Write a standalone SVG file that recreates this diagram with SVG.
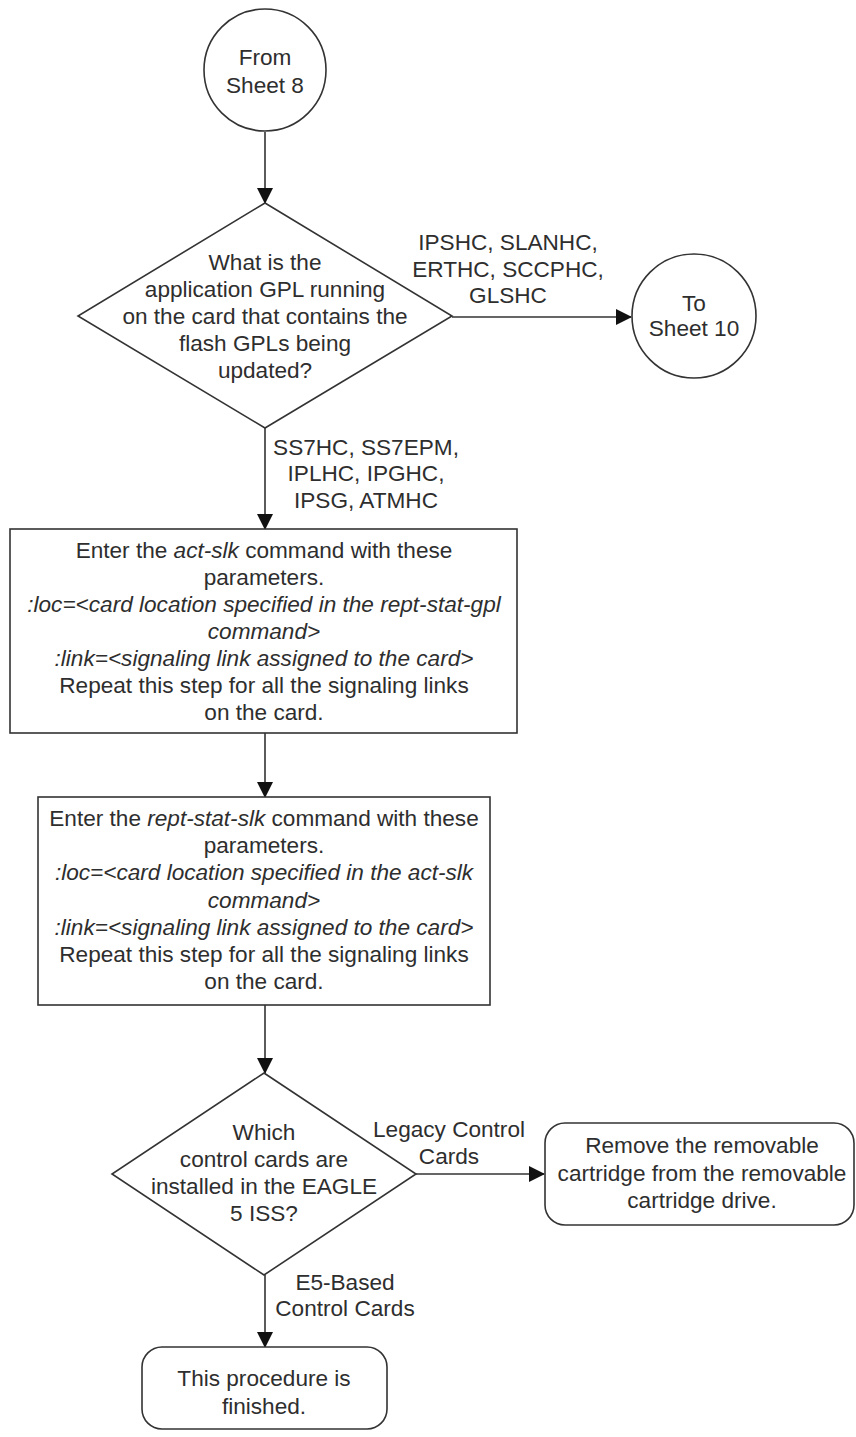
<svg xmlns="http://www.w3.org/2000/svg" width="856" height="1437" viewBox="0 0 856 1437">
  <style>
    .shape { fill: #ffffff; stroke: #333333; stroke-width: 1.6; }
    .line { fill: none; stroke: #333333; stroke-width: 1.6; }
    text { font-family: "Liberation Sans", Arial, sans-serif; font-size: 22.6px; fill: #2e2e2e; text-anchor: middle; }
    .i { font-style: italic; }
  </style>
  <defs>
    <marker id="arrow" markerWidth="16" markerHeight="16" refX="15" refY="8" orient="auto" markerUnits="userSpaceOnUse">
      <path d="M0,0 L16,8 L0,16 Z" fill="#111111"/>
    </marker>
  </defs>
  <rect width="856" height="1437" fill="#ffffff"/>

  <!-- connectors and their branch labels -->
  <g id="connectors">
    <line class="line" x1="265" y1="132" x2="265" y2="203" marker-end="url(#arrow)"/>
    <line class="line" x1="452" y1="317" x2="631" y2="317" marker-end="url(#arrow)"/>
    <line class="line" x1="265" y1="428" x2="265" y2="529" marker-end="url(#arrow)"/>
    <line class="line" x1="265" y1="733" x2="265" y2="797" marker-end="url(#arrow)"/>
    <line class="line" x1="265" y1="1005" x2="265" y2="1073" marker-end="url(#arrow)"/>
    <line class="line" x1="416" y1="1174" x2="544" y2="1174" marker-end="url(#arrow)"/>
    <line class="line" x1="265" y1="1275" x2="265" y2="1347" marker-end="url(#arrow)"/>
    <text x="508" y="250">IPSHC, SLANHC,</text>
    <text x="508" y="277">ERTHC, SCCPHC,</text>
    <text x="508" y="303">GLSHC</text>
    <text x="366" y="455">SS7HC, SS7EPM,</text>
    <text x="366" y="481">IPLHC, IPGHC,</text>
    <text x="366" y="508">IPSG, ATMHC</text>
    <text x="449" y="1137">Legacy Control</text>
    <text x="449" y="1164">Cards</text>
    <text x="345" y="1290">E5-Based</text>
    <text x="345" y="1316">Control Cards</text>
  </g>

  <g id="from-sheet-8">
    <circle class="shape" cx="265" cy="70" r="61"/>
    <text x="265" y="65">From</text>
    <text x="265" y="93">Sheet 8</text>
  </g>

  <g id="decision-gpl">
    <polygon class="shape" points="265,203 452,316 265,428 78,316"/>
    <text x="265" y="270">What is the</text>
    <text x="265" y="297">application GPL running</text>
    <text x="265" y="324">on the card that contains the</text>
    <text x="265" y="351">flash GPLs being</text>
    <text x="265" y="378">updated?</text>
  </g>

  <g id="to-sheet-10">
    <circle class="shape" cx="694" cy="316" r="62"/>
    <text x="694" y="311">To</text>
    <text x="694" y="336">Sheet 10</text>
  </g>

  <g id="act-slk">
    <rect class="shape" x="10" y="529" width="507" height="204"/>
    <text x="264" y="558">Enter the <tspan class="i">act-slk</tspan> command with these</text>
    <text x="264" y="585">parameters.</text>
    <text x="264" y="612" class="i">:loc=&lt;card location specified in the rept-stat-gpl</text>
    <text x="264" y="639" class="i">command&gt;</text>
    <text x="264" y="666" class="i">:link=&lt;signaling link assigned to the card&gt;</text>
    <text x="264" y="693">Repeat this step for all the signaling links</text>
    <text x="264" y="720">on the card.</text>
  </g>

  <g id="rept-stat-slk">
    <rect class="shape" x="38" y="797" width="452" height="208"/>
    <text x="264" y="826">Enter the <tspan class="i">rept-stat-slk</tspan> command with these</text>
    <text x="264" y="853">parameters.</text>
    <text x="264" y="880" class="i">:loc=&lt;card location specified in the act-slk</text>
    <text x="264" y="908" class="i">command&gt;</text>
    <text x="264" y="935" class="i">:link=&lt;signaling link assigned to the card&gt;</text>
    <text x="264" y="962">Repeat this step for all the signaling links</text>
    <text x="264" y="989">on the card.</text>
  </g>

  <g id="decision-control-cards">
    <polygon class="shape" points="264,1073 416,1174 264,1275 112,1174"/>
    <text x="264" y="1140">Which</text>
    <text x="264" y="1167">control cards are</text>
    <text x="264" y="1194">installed in the EAGLE</text>
    <text x="264" y="1221">5 ISS?</text>
  </g>

  <g id="remove-cartridge">
    <rect class="shape" x="545" y="1123" width="309" height="102" rx="20" ry="20"/>
    <text x="702" y="1153">Remove the removable</text>
    <text x="702" y="1181">cartridge from the removable</text>
    <text x="702" y="1208">cartridge drive.</text>
  </g>

  <g id="finished">
    <rect class="shape" x="142" y="1347" width="245" height="82" rx="20" ry="20"/>
    <text x="264" y="1386">This procedure is</text>
    <text x="264" y="1414">finished.</text>
  </g>
</svg>
